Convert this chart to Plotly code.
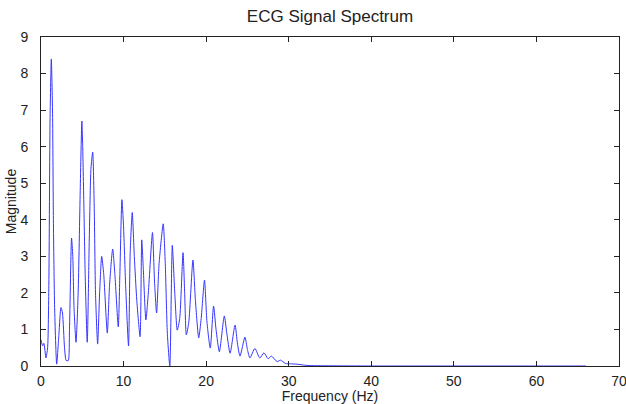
import plotly.graph_objects as go

freq_hz = [0.0, 0.2, 0.35, 0.6, 0.8, 0.95, 1.1, 1.25, 1.4, 1.5, 1.65, 1.9, 2.15, 2.42, 2.6, 2.85,
           3.05, 3.3, 3.45, 3.7, 3.85, 4.0, 4.24, 4.5, 4.75, 4.95, 5.05, 5.2, 5.35, 5.6, 5.85,
           6.05, 6.26, 6.45, 6.6, 6.86, 7.1, 7.35, 7.6, 8.03, 8.3, 8.68, 8.95, 9.36, 9.55, 9.8,
           10.0, 10.25, 10.6, 10.8, 11.05, 11.3, 11.6, 12.0, 12.2, 12.4, 12.7, 13.0, 13.5, 13.75,
           14.0, 14.3, 14.8, 15.05, 15.3, 15.6, 15.9, 16.2, 16.5, 16.8, 17.2, 17.4, 17.6, 17.9,
           18.4, 18.7, 19.1, 19.4, 19.8, 20.1, 20.5, 20.9, 21.2, 21.6, 22.2, 22.5, 22.9, 23.5,
           23.8, 24.1, 24.7, 25.0, 25.3, 25.9, 26.5, 27.0, 27.5, 27.9, 28.6, 29.0, 29.6, 30.2,
           31.0, 32.0, 33.0, 35.0, 40.0, 50.0, 60.0, 66.0]
magnitude = [0.72, 0.55, 0.62, 0.22, 0.5, 2.2, 6.8, 8.4, 6.9, 4.0, 1.6, 0.05, 0.8, 1.6, 1.45, 0.5,
             0.15, 0.15, 1.0, 3.5, 3.0, 1.6, 0.65, 2.0, 4.8, 6.7, 6.0, 4.3, 2.5, 0.65, 3.5,
             5.4, 5.85, 4.3, 2.0, 0.6, 2.0, 3.0, 2.5, 0.9, 2.2, 3.2, 2.5, 1.07, 2.5, 4.55,
             3.8, 2.2, 0.55, 3.1, 4.2, 3.0, 1.8, 0.8, 3.45, 2.6, 1.26, 2.0, 3.65, 2.3,
             1.45, 2.8, 3.89, 2.8, 0.9, 0.0, 3.3, 2.0, 0.98, 1.3, 3.1, 2.0, 0.85, 1.2,
             2.9, 1.8, 0.77, 1.3, 2.35, 1.2, 0.49, 1.64, 1.0, 0.39, 1.37, 0.9, 0.35, 1.12,
             0.6, 0.27, 0.79, 0.45, 0.22, 0.48, 0.22, 0.36, 0.2, 0.27, 0.12, 0.16, 0.07, 0.06,
             0.05, 0.02, 0.01, 0.005, 0.0, 0.0, 0.0, 0.0]

x_ticks = [0, 10, 20, 30, 40, 50, 60, 70]
y_ticks = [0, 1, 2, 3, 4, 5, 6, 7, 8, 9]

FONT = "Liberation Sans, Arial, sans-serif"

fig = go.Figure(go.Scatter(x=freq_hz, y=magnitude, mode="lines",
                           line=dict(color="#3535ff", width=1, shape="spline", smoothing=0.6)))

axis_common = dict(showline=True, linecolor="#222222", linewidth=1, mirror="ticks",
                   ticks="inside", ticklen=5, tickcolor="#222222", showgrid=False,
                   zeroline=False, automargin=False, ticklabeloverflow="allow",
                   tickfont=dict(family=FONT, size=14, color="#222222"))

fig.update_layout(
    width=626, height=404,
    margin=dict(l=41, r=7, t=37, b=38),
    paper_bgcolor="white", plot_bgcolor="white",
    showlegend=False,
    title=dict(text="ECG Signal Spectrum", x=330 / 626, xanchor="center",
               y=1 - 16 / 404, yanchor="middle",
               font=dict(family=FONT, size=17, color="#222222")),
    xaxis=dict(range=[0, 70], tickvals=x_ticks, ticktext=[str(v) for v in x_ticks],
               ticklabelstandoff=2,
               title=dict(text="Frequency (Hz)", standoff=2,
                          font=dict(family=FONT, size=14, color="#222222")),
               **axis_common),
    yaxis=dict(range=[0, 9], tickvals=y_ticks, ticktext=[str(v) for v in y_ticks],
               ticklabelstandoff=9,
               title=dict(text="Magnitude", standoff=0,
                          font=dict(family=FONT, size=14, color="#222222")),
               **axis_common),
)

fig.write_html("out.html", config={"displayModeBar": False},
               post_script="document.body.style.margin='0';document.body.style.padding='0';")
